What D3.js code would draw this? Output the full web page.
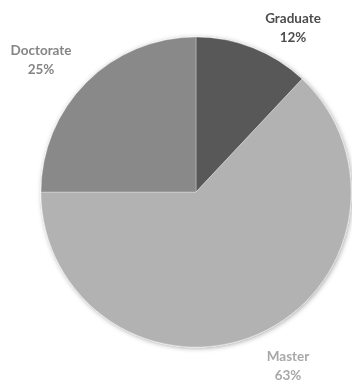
<!DOCTYPE html>
<html>
<head>
<meta charset="utf-8">
<script src="https://cdn.jsdelivr.net/npm/d3@7"></script>
<style>
  html, body { margin: 0; padding: 0; background: #fff; }
  svg { display: block; }
</style>
</head>
<body>
<svg id="chart" width="352" height="384"></svg>
<script>
// Degree distribution
const categories = ["Graduate", "Master", "Doctorate"];
const shares = [12, 63, 25];
const sliceColors = ["#595959", "#b2b2b2", "#898989"];
const labelColors = ["#4d4d4d", "#a8a8a8", "#858585"];
// label anchor positions (centre of the two-line label)
const labelPos = [[293, 26], [288, 364], [41, 58]];

const width = 352, height = 384;
const cx = 196, cy = 192, radius = 155;

const svg = d3.select("#chart");
const defs = svg.append("defs");
const shadow = defs.append("filter").attr("id", "shadow")
  .attr("x", "-10%").attr("y", "-10%").attr("width", "120%").attr("height", "120%");
shadow.append("feDropShadow")
  .attr("dx", 1).attr("dy", 1).attr("stdDeviation", 2.5)
  .attr("flood-color", "#000").attr("flood-opacity", 0.35);
const soft = defs.append("filter").attr("id", "soft");
soft.append("feGaussianBlur").attr("stdDeviation", 0.4);

const data = categories.map((c, i) => ({ name: c, value: shares[i], i }));

const pie = d3.pie().value(d => d.value).sort(null);
const arc = d3.arc().innerRadius(0).outerRadius(radius);

const g = svg.append("g").attr("transform", `translate(${cx},${cy})`);

g.append("g").attr("filter", "url(#shadow)")
  .selectAll("path")
  .data(pie(data))
  .join("path")
  .attr("d", arc)
  .attr("fill", d => sliceColors[d.data.i])
  .attr("stroke", "#fff")
  .attr("stroke-width", 0.3);

const labels = svg.append("g")
  .attr("font-family", "Lato, 'Open Sans', sans-serif")
  .attr("font-weight", "bold")
  .attr("font-size", 13.5)
  .attr("text-anchor", "middle")
  .attr("filter", "url(#soft)");

data.forEach(d => {
  const [x, y] = labelPos[d.i];
  const t = labels.append("text")
    .attr("x", x).attr("y", y)
    .attr("fill", labelColors[d.i]);
  t.append("tspan").attr("x", x).attr("dy", "-0.2em").text(d.name);
  t.append("tspan").attr("x", x).attr("dy", "1.35em").text(d.value + "%");
});
</script>
</body>
</html>
